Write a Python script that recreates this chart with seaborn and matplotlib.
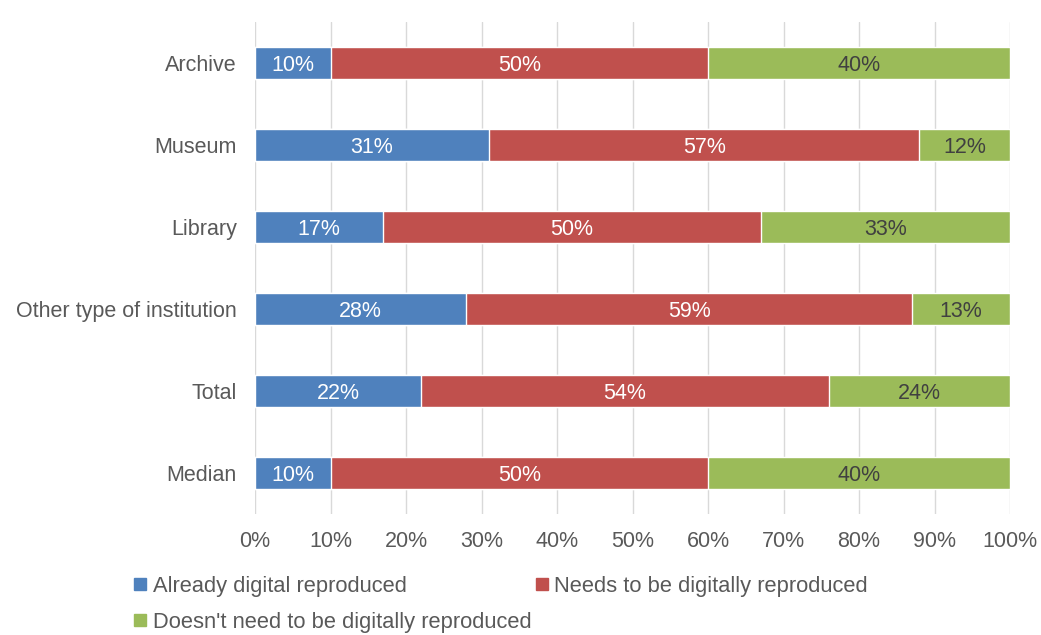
import matplotlib
matplotlib.use("Agg")
import matplotlib.pyplot as plt
from matplotlib.lines import Line2D
import numpy as np
import pandas as pd
import seaborn as sns

categories = ["Archive", "Museum", "Library", "Other type of institution", "Total", "Median"]
already = [10, 31, 17, 28, 22, 10]
needs = [50, 57, 50, 59, 54, 50]
not_needed = [40, 12, 33, 13, 24, 40]

series_names = ["Already digital reproduced", "Needs to be digitally reproduced",
                "Doesn't need to be digitally reproduced"]
colors = ["#4F81BD", "#C0504D", "#9BBB59"]
text_colors = ["white", "white", "#404040"]
x_ticks = list(range(0, 101, 10))

FS = 15.5
LEGEND_FS = 15.75

sns.set_theme(style="white")
plt.rcParams["font.family"] = ["Liberation Sans", "DejaVu Sans"]

df = pd.DataFrame({"category": categories, "a": already, "b": needs, "c": not_needed})
df["ab"] = df["a"] + df["b"]
df["abc"] = df["ab"] + df["c"]

fig = plt.figure(figsize=(10.41, 6.35), dpi=100)
ax = fig.add_axes([255 / 1041, 1 - 514 / 635, (1010 - 255) / 1041, (514 - 22) / 635])

# stacked bars: draw cumulative totals from the longest down
for col, c in zip(["abc", "ab", "a"], colors[::-1]):
    sns.barplot(data=df, x=col, y="category", color=c, orient="h",
                width=0.39, ax=ax, saturation=1)

# centered value labels
for i, row in df.iterrows():
    lefts = [0, row["a"], row["ab"]]
    vals = [row["a"], row["b"], row["c"]]
    for left, v, tc in zip(lefts, vals, text_colors):
        ax.text(left + v / 2, i, f"{v}%", ha="center", va="center_baseline",
                color=tc, fontsize=FS)

ax.set_xlim(0, 100)
ax.set_ylim(5.5, -0.5)
ax.set_xticks(x_ticks)
ax.set_xticklabels([f"{t}%" for t in x_ticks])
ax.xaxis.grid(True, color="#D9D9D9", linewidth=1)
ax.set_axisbelow(True)
ax.set_xlabel("")
ax.set_ylabel("")
for s in ax.spines.values():
    s.set_visible(False)
ax.tick_params(axis="both", length=0, labelsize=FS, labelcolor="#595959")
ax.tick_params(axis="x", pad=12)
ax.tick_params(axis="y", pad=13)

handles = [Line2D([], [], marker="s", linestyle="none", markersize=8.5,
                  markerfacecolor=c, markeredgecolor=c) for c in colors]
order = [0, 2, 1]
fig.legend([handles[k] for k in order], [series_names[k] for k in order],
           loc="upper left", bbox_to_anchor=(134 / 1041, 1 - 576 / 635),
           ncol=2, frameon=False, fontsize=LEGEND_FS, handlelength=0.55,
           handletextpad=0.3, columnspacing=0.2, labelspacing=0.68,
           labelcolor="#595959", borderaxespad=0, borderpad=0)

fig.savefig("out.png", dpi=100, facecolor="white")
